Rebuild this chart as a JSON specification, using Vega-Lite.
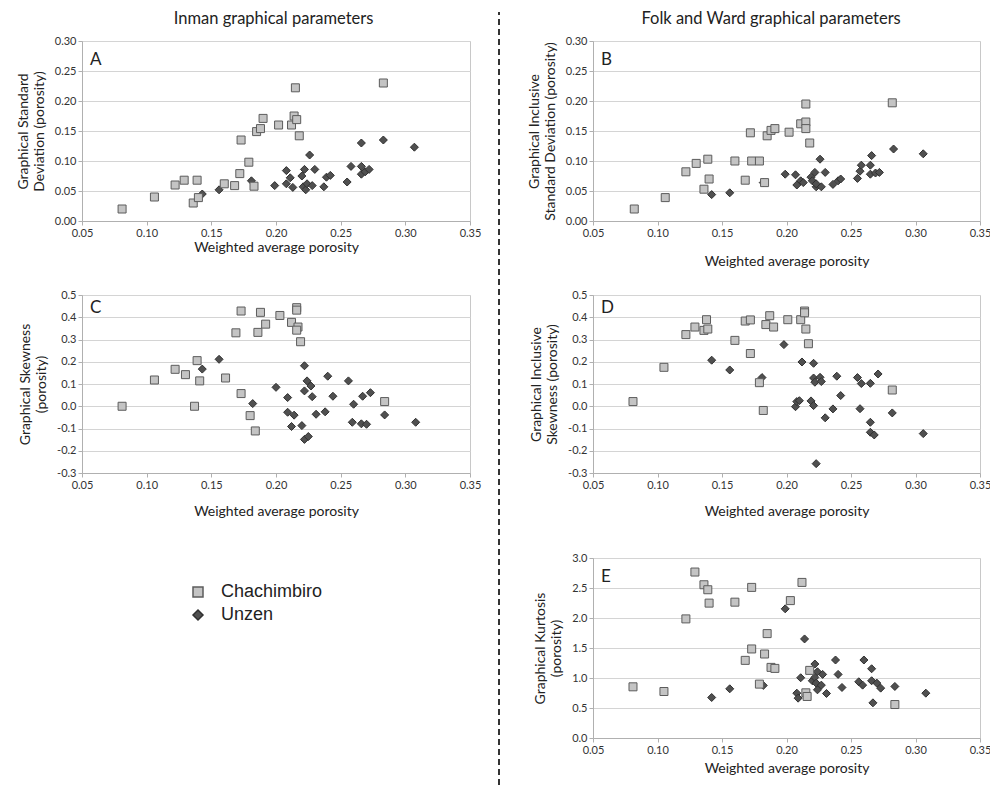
{
  "$schema": "https://vega.github.io/schema/vega-lite/v6.json",
  "padding": {"left": 15, "top": 10, "right": 0, "bottom": 0},
  "background": "white",
  "spacing": 0,
  "config": {
    "font": "Lato",
    "view": {"stroke": "#c8c8c8", "strokeWidth": 1},
    "axis": {"labelFont": "Lato", "labelFontSize": 11, "labelColor": "#333333", "titleFont": "Lato", "titleFontSize": 14, "titleFontWeight": "normal", "titleColor": "#222222", "domainColor": "#b0b0b0", "tickColor": "#b0b0b0", "tickSize": 4, "labelPadding": 2, "gridColor": "#d4d4d4", "labelFlush": false, "labelOverlap": false},
    "axisX": {"grid": false, "titlePadding": 6},
    "axisY": {"grid": true, "titlePadding": 8, "titleLineHeight": 16},
    "title": {"font": "Lato", "fontWeight": "normal", "color": "#222222"}
  },
  "hconcat": [
    {
      "title": {"text": "Inman graphical parameters", "fontSize": 16.5, "offset": 7, "anchor": "middle", "dx": 25},
      "spacing": 33,
      "vconcat": [
        {
          "width": 388, "height": 180,
          "title": {"text": "A", "anchor": "start", "frame": "group", "fontSize": 17, "offset": 0, "baseline": "top", "dx": 8, "dy": 34},
          "data": {"values": [
            {"s":"Unzen","x":0.143,"y":0.045},{"s":"Unzen","x":0.156,"y":0.052},{"s":"Unzen","x":0.181,"y":0.067},{"s":"Unzen","x":0.199,"y":0.059},{"s":"Unzen","x":0.208,"y":0.084},{"s":"Unzen","x":0.208,"y":0.062},{"s":"Unzen","x":0.211,"y":0.072},{"s":"Unzen","x":0.213,"y":0.056},{"s":"Unzen","x":0.220,"y":0.075},{"s":"Unzen","x":0.222,"y":0.086},{"s":"Unzen","x":0.221,"y":0.057},{"s":"Unzen","x":0.223,"y":0.052},{"s":"Unzen","x":0.224,"y":0.062},{"s":"Unzen","x":0.226,"y":0.110},{"s":"Unzen","x":0.228,"y":0.059},{"s":"Unzen","x":0.230,"y":0.086},{"s":"Unzen","x":0.237,"y":0.057},{"s":"Unzen","x":0.239,"y":0.073},{"s":"Unzen","x":0.242,"y":0.076},{"s":"Unzen","x":0.255,"y":0.065},{"s":"Unzen","x":0.258,"y":0.091},{"s":"Unzen","x":0.266,"y":0.130},{"s":"Unzen","x":0.266,"y":0.091},{"s":"Unzen","x":0.266,"y":0.078},{"s":"Unzen","x":0.269,"y":0.082},{"s":"Unzen","x":0.272,"y":0.086},{"s":"Unzen","x":0.283,"y":0.135},{"s":"Unzen","x":0.307,"y":0.123},
            {"s":"Chachimbiro","x":0.081,"y":0.020},{"s":"Chachimbiro","x":0.106,"y":0.040},{"s":"Chachimbiro","x":0.122,"y":0.060},{"s":"Chachimbiro","x":0.129,"y":0.068},{"s":"Chachimbiro","x":0.139,"y":0.068},{"s":"Chachimbiro","x":0.136,"y":0.030},{"s":"Chachimbiro","x":0.140,"y":0.039},{"s":"Chachimbiro","x":0.160,"y":0.062},{"s":"Chachimbiro","x":0.168,"y":0.059},{"s":"Chachimbiro","x":0.173,"y":0.135},{"s":"Chachimbiro","x":0.172,"y":0.079},{"s":"Chachimbiro","x":0.179,"y":0.098},{"s":"Chachimbiro","x":0.183,"y":0.058},{"s":"Chachimbiro","x":0.185,"y":0.149},{"s":"Chachimbiro","x":0.188,"y":0.154},{"s":"Chachimbiro","x":0.190,"y":0.171},{"s":"Chachimbiro","x":0.202,"y":0.160},{"s":"Chachimbiro","x":0.212,"y":0.160},{"s":"Chachimbiro","x":0.214,"y":0.175},{"s":"Chachimbiro","x":0.216,"y":0.169},{"s":"Chachimbiro","x":0.215,"y":0.222},{"s":"Chachimbiro","x":0.218,"y":0.142},{"s":"Chachimbiro","x":0.283,"y":0.230}
          ]},
          "mark": {"type": "point", "filled": true, "size": 64, "strokeWidth": 1, "opacity": 1},
          "encoding": {
            "x": {"field": "x", "type": "quantitative", "scale": {"domain": [0.05, 0.35], "nice": false, "zero": false}, "axis": {"values": [0.05, 0.1, 0.15, 0.2, 0.25, 0.3, 0.35], "format": ".2f", "title": "Weighted average porosity", "titlePadding": 2}},
            "y": {"field": "y", "type": "quantitative", "scale": {"domain": [0, 0.3], "nice": false, "zero": false}, "axis": {"values": [0, 0.05, 0.1, 0.15, 0.2, 0.25, 0.3], "format": ".2f", "title": ["Graphical Standard", "Deviation (porosity)"]}},
            "shape": {"field": "s", "type": "nominal", "scale": {"domain": ["Chachimbiro", "Unzen"], "range": ["square", "diamond"]}, "legend": {"orient": "none", "legendX": 107, "legendY": 542, "title": null, "labelFont": "Liberation Sans", "labelFontSize": 18, "labelColor": "#222222", "rowPadding": 5, "labelOffset": 14}},
            "fill": {"field": "s", "type": "nominal", "scale": {"domain": ["Chachimbiro", "Unzen"], "range": ["#c4c4c4", "#505050"]}, "legend": {"orient": "none", "legendX": 107, "legendY": 542, "title": null, "labelFont": "Liberation Sans", "labelFontSize": 18, "labelColor": "#222222", "rowPadding": 5, "labelOffset": 14}},
            "stroke": {"field": "s", "type": "nominal", "scale": {"domain": ["Chachimbiro", "Unzen"], "range": ["#5c5c5c", "#303030"]}, "legend": {"orient": "none", "legendX": 107, "legendY": 542, "title": null, "labelFont": "Liberation Sans", "labelFontSize": 18, "labelColor": "#222222", "rowPadding": 5, "labelOffset": 14}}
          }
        },
        {
          "width": 388, "height": 178,
          "title": {"text": "C", "anchor": "start", "frame": "group", "fontSize": 17, "offset": 0, "baseline": "top", "dx": 8, "dy": 28},
          "data": {"values": [
            {"s":"Unzen","x":0.143,"y":0.167},{"s":"Unzen","x":0.156,"y":0.211},{"s":"Unzen","x":0.182,"y":0.012},{"s":"Unzen","x":0.200,"y":0.085},{"s":"Unzen","x":0.209,"y":0.039},{"s":"Unzen","x":0.209,"y":-0.027},{"s":"Unzen","x":0.212,"y":-0.091},{"s":"Unzen","x":0.214,"y":-0.040},{"s":"Unzen","x":0.220,"y":-0.087},{"s":"Unzen","x":0.222,"y":0.182},{"s":"Unzen","x":0.224,"y":0.114},{"s":"Unzen","x":0.222,"y":0.069},{"s":"Unzen","x":0.227,"y":0.091},{"s":"Unzen","x":0.228,"y":0.043},{"s":"Unzen","x":0.222,"y":-0.149},{"s":"Unzen","x":0.225,"y":-0.136},{"s":"Unzen","x":0.231,"y":-0.036},{"s":"Unzen","x":0.238,"y":-0.025},{"s":"Unzen","x":0.240,"y":0.135},{"s":"Unzen","x":0.244,"y":0.045},{"s":"Unzen","x":0.256,"y":0.114},{"s":"Unzen","x":0.260,"y":0.009},{"s":"Unzen","x":0.259,"y":-0.072},{"s":"Unzen","x":0.267,"y":0.045},{"s":"Unzen","x":0.266,"y":-0.079},{"s":"Unzen","x":0.270,"y":-0.081},{"s":"Unzen","x":0.273,"y":0.061},{"s":"Unzen","x":0.284,"y":-0.039},{"s":"Unzen","x":0.308,"y":-0.072},
            {"s":"Chachimbiro","x":0.081,"y":0.0},{"s":"Chachimbiro","x":0.106,"y":0.118},{"s":"Chachimbiro","x":0.122,"y":0.166},{"s":"Chachimbiro","x":0.130,"y":0.142},{"s":"Chachimbiro","x":0.139,"y":0.205},{"s":"Chachimbiro","x":0.141,"y":0.114},{"s":"Chachimbiro","x":0.137,"y":0.0},{"s":"Chachimbiro","x":0.161,"y":0.127},{"s":"Chachimbiro","x":0.169,"y":0.330},{"s":"Chachimbiro","x":0.173,"y":0.428},{"s":"Chachimbiro","x":0.173,"y":0.057},{"s":"Chachimbiro","x":0.180,"y":-0.042},{"s":"Chachimbiro","x":0.184,"y":-0.111},{"s":"Chachimbiro","x":0.186,"y":0.332},{"s":"Chachimbiro","x":0.188,"y":0.422},{"s":"Chachimbiro","x":0.192,"y":0.369},{"s":"Chachimbiro","x":0.203,"y":0.408},{"s":"Chachimbiro","x":0.212,"y":0.377},{"s":"Chachimbiro","x":0.216,"y":0.443},{"s":"Chachimbiro","x":0.216,"y":0.432},{"s":"Chachimbiro","x":0.217,"y":0.356},{"s":"Chachimbiro","x":0.216,"y":0.342},{"s":"Chachimbiro","x":0.219,"y":0.290},{"s":"Chachimbiro","x":0.284,"y":0.021}
          ]},
          "mark": {"type": "point", "filled": true, "size": 64, "strokeWidth": 1, "opacity": 1},
          "encoding": {
            "x": {"field": "x", "type": "quantitative", "scale": {"domain": [0.05, 0.35], "nice": false, "zero": false}, "axis": {"values": [0.05, 0.1, 0.15, 0.2, 0.25, 0.3, 0.35], "format": ".2f", "title": "Weighted average porosity", "titlePadding": 14}},
            "y": {"field": "y", "type": "quantitative", "scale": {"domain": [-0.3, 0.5], "nice": false, "zero": false}, "axis": {"values": [-0.3, -0.2, -0.1, 0, 0.1, 0.2, 0.3, 0.4, 0.5], "format": ".1f", "labelExpr": "replace(datum.label, '\u2212', '-')", "title": ["Graphical Skewness", "(porosity)"]}},
            "shape": {"field": "s", "type": "nominal", "scale": {"domain": ["Chachimbiro", "Unzen"], "range": ["square", "diamond"]}, "legend": {"orient": "none", "legendX": 107, "legendY": 542, "title": null, "labelFont": "Liberation Sans", "labelFontSize": 18, "labelColor": "#222222", "rowPadding": 5, "labelOffset": 14}},
            "fill": {"field": "s", "type": "nominal", "scale": {"domain": ["Chachimbiro", "Unzen"], "range": ["#c4c4c4", "#505050"]}, "legend": {"orient": "none", "legendX": 107, "legendY": 542, "title": null, "labelFont": "Liberation Sans", "labelFontSize": 18, "labelColor": "#222222", "rowPadding": 5, "labelOffset": 14}},
            "stroke": {"field": "s", "type": "nominal", "scale": {"domain": ["Chachimbiro", "Unzen"], "range": ["#5c5c5c", "#303030"]}, "legend": {"orient": "none", "legendX": 107, "legendY": 542, "title": null, "labelFont": "Liberation Sans", "labelFontSize": 18, "labelColor": "#222222", "rowPadding": 5, "labelOffset": 14}}
          }
        }
      ]
    },
    {
      "width": 44, "height": 744,
      "view": {"stroke": null},
      "data": {"values": [{"k": 1}]},
      "mark": {"type": "rule", "color": "#333333", "strokeWidth": 2, "strokeDash": [6, 4]},
      "encoding": {
        "x": {"datum": 17, "type": "quantitative", "scale": {"domain": [0, 44]}, "axis": null},
        "y": {"datum": 0, "type": "quantitative", "scale": {"domain": [0, 1]}, "axis": null},
        "y2": {"datum": 1.039}
      }
    },
    {
      "title": {"text": "Folk and Ward graphical parameters", "fontSize": 16.5, "offset": 7, "anchor": "middle", "dx": 12},
      "spacing": 32,
      "vconcat": [
        {
          "spacing": 19,
          "vconcat": [
            {
              "width": 387, "height": 180,
              "title": {"text": "B", "anchor": "start", "frame": "group", "fontSize": 17, "offset": 0, "baseline": "top", "dx": 8, "dy": 34},
              "data": {"values": [
                {"s":"Unzen","x":0.142,"y":0.044},{"s":"Unzen","x":0.156,"y":0.047},{"s":"Unzen","x":0.182,"y":0.064},{"s":"Unzen","x":0.199,"y":0.078},{"s":"Unzen","x":0.207,"y":0.077},{"s":"Unzen","x":0.208,"y":0.060},{"s":"Unzen","x":0.211,"y":0.067},{"s":"Unzen","x":0.213,"y":0.064},{"s":"Unzen","x":0.219,"y":0.073},{"s":"Unzen","x":0.222,"y":0.081},{"s":"Unzen","x":0.220,"y":0.067},{"s":"Unzen","x":0.223,"y":0.057},{"s":"Unzen","x":0.223,"y":0.062},{"s":"Unzen","x":0.226,"y":0.103},{"s":"Unzen","x":0.227,"y":0.057},{"s":"Unzen","x":0.230,"y":0.081},{"s":"Unzen","x":0.236,"y":0.061},{"s":"Unzen","x":0.240,"y":0.067},{"s":"Unzen","x":0.242,"y":0.070},{"s":"Unzen","x":0.255,"y":0.071},{"s":"Unzen","x":0.257,"y":0.083},{"s":"Unzen","x":0.258,"y":0.093},{"s":"Unzen","x":0.265,"y":0.093},{"s":"Unzen","x":0.266,"y":0.109},{"s":"Unzen","x":0.265,"y":0.078},{"s":"Unzen","x":0.269,"y":0.080},{"s":"Unzen","x":0.272,"y":0.081},{"s":"Unzen","x":0.283,"y":0.120},{"s":"Unzen","x":0.306,"y":0.112},
                {"s":"Chachimbiro","x":0.082,"y":0.020},{"s":"Chachimbiro","x":0.106,"y":0.039},{"s":"Chachimbiro","x":0.122,"y":0.082},{"s":"Chachimbiro","x":0.130,"y":0.096},{"s":"Chachimbiro","x":0.139,"y":0.103},{"s":"Chachimbiro","x":0.136,"y":0.053},{"s":"Chachimbiro","x":0.140,"y":0.070},{"s":"Chachimbiro","x":0.160,"y":0.100},{"s":"Chachimbiro","x":0.168,"y":0.068},{"s":"Chachimbiro","x":0.172,"y":0.147},{"s":"Chachimbiro","x":0.173,"y":0.100},{"s":"Chachimbiro","x":0.179,"y":0.100},{"s":"Chachimbiro","x":0.183,"y":0.064},{"s":"Chachimbiro","x":0.185,"y":0.142},{"s":"Chachimbiro","x":0.188,"y":0.151},{"s":"Chachimbiro","x":0.191,"y":0.154},{"s":"Chachimbiro","x":0.202,"y":0.148},{"s":"Chachimbiro","x":0.211,"y":0.162},{"s":"Chachimbiro","x":0.215,"y":0.165},{"s":"Chachimbiro","x":0.215,"y":0.154},{"s":"Chachimbiro","x":0.215,"y":0.195},{"s":"Chachimbiro","x":0.218,"y":0.130},{"s":"Chachimbiro","x":0.282,"y":0.197}
              ]},
              "mark": {"type": "point", "filled": true, "size": 64, "strokeWidth": 1, "opacity": 1},
              "encoding": {
                "x": {"field": "x", "type": "quantitative", "scale": {"domain": [0.05, 0.35], "nice": false, "zero": false}, "axis": {"values": [0.05, 0.1, 0.15, 0.2, 0.25, 0.3, 0.35], "format": ".2f", "title": "Weighted average porosity", "titlePadding": 16}},
                "y": {"field": "y", "type": "quantitative", "scale": {"domain": [0, 0.3], "nice": false, "zero": false}, "axis": {"values": [0, 0.05, 0.1, 0.15, 0.2, 0.25, 0.3], "format": ".2f", "title": ["Graphical Inclusive", "Standard Deviation (porosity)"]}},
                "shape": {"field": "s", "type": "nominal", "scale": {"domain": ["Chachimbiro", "Unzen"], "range": ["square", "diamond"]}, "legend": {"orient": "none", "legendX": 107, "legendY": 542, "title": null, "labelFont": "Liberation Sans", "labelFontSize": 18, "labelColor": "#222222", "rowPadding": 5, "labelOffset": 14}},
                "fill": {"field": "s", "type": "nominal", "scale": {"domain": ["Chachimbiro", "Unzen"], "range": ["#c4c4c4", "#505050"]}, "legend": {"orient": "none", "legendX": 107, "legendY": 542, "title": null, "labelFont": "Liberation Sans", "labelFontSize": 18, "labelColor": "#222222", "rowPadding": 5, "labelOffset": 14}},
                "stroke": {"field": "s", "type": "nominal", "scale": {"domain": ["Chachimbiro", "Unzen"], "range": ["#5c5c5c", "#303030"]}, "legend": {"orient": "none", "legendX": 107, "legendY": 542, "title": null, "labelFont": "Liberation Sans", "labelFontSize": 18, "labelColor": "#222222", "rowPadding": 5, "labelOffset": 14}}
              }
            },
            {
              "width": 387, "height": 178,
              "title": {"text": "D", "anchor": "start", "frame": "group", "fontSize": 17, "offset": 0, "baseline": "top", "dx": 8, "dy": 28},
              "data": {"values": [
                {"s":"Unzen","x":0.142,"y":0.207},{"s":"Unzen","x":0.156,"y":0.163},{"s":"Unzen","x":0.181,"y":0.129},{"s":"Unzen","x":0.198,"y":0.277},{"s":"Unzen","x":0.207,"y":-0.002},{"s":"Unzen","x":0.208,"y":0.021},{"s":"Unzen","x":0.210,"y":0.025},{"s":"Unzen","x":0.212,"y":0.199},{"s":"Unzen","x":0.219,"y":0.024},{"s":"Unzen","x":0.221,"y":0.003},{"s":"Unzen","x":0.221,"y":0.193},{"s":"Unzen","x":0.221,"y":0.127},{"s":"Unzen","x":0.222,"y":0.108},{"s":"Unzen","x":0.226,"y":0.130},{"s":"Unzen","x":0.227,"y":0.111},{"s":"Unzen","x":0.223,"y":-0.258},{"s":"Unzen","x":0.230,"y":-0.052},{"s":"Unzen","x":0.236,"y":-0.012},{"s":"Unzen","x":0.239,"y":0.135},{"s":"Unzen","x":0.242,"y":0.048},{"s":"Unzen","x":0.255,"y":0.129},{"s":"Unzen","x":0.258,"y":0.102},{"s":"Unzen","x":0.257,"y":-0.011},{"s":"Unzen","x":0.265,"y":0.103},{"s":"Unzen","x":0.265,"y":-0.072},{"s":"Unzen","x":0.265,"y":-0.117},{"s":"Unzen","x":0.268,"y":-0.129},{"s":"Unzen","x":0.271,"y":0.145},{"s":"Unzen","x":0.282,"y":-0.030},{"s":"Unzen","x":0.306,"y":-0.123},
                {"s":"Chachimbiro","x":0.081,"y":0.021},{"s":"Chachimbiro","x":0.105,"y":0.175},{"s":"Chachimbiro","x":0.122,"y":0.322},{"s":"Chachimbiro","x":0.129,"y":0.356},{"s":"Chachimbiro","x":0.136,"y":0.341},{"s":"Chachimbiro","x":0.138,"y":0.389},{"s":"Chachimbiro","x":0.139,"y":0.347},{"s":"Chachimbiro","x":0.160,"y":0.296},{"s":"Chachimbiro","x":0.168,"y":0.383},{"s":"Chachimbiro","x":0.172,"y":0.388},{"s":"Chachimbiro","x":0.172,"y":0.237},{"s":"Chachimbiro","x":0.179,"y":0.106},{"s":"Chachimbiro","x":0.182,"y":-0.019},{"s":"Chachimbiro","x":0.184,"y":0.367},{"s":"Chachimbiro","x":0.187,"y":0.407},{"s":"Chachimbiro","x":0.190,"y":0.356},{"s":"Chachimbiro","x":0.201,"y":0.389},{"s":"Chachimbiro","x":0.211,"y":0.389},{"s":"Chachimbiro","x":0.214,"y":0.428},{"s":"Chachimbiro","x":0.214,"y":0.420},{"s":"Chachimbiro","x":0.215,"y":0.347},{"s":"Chachimbiro","x":0.217,"y":0.281},{"s":"Chachimbiro","x":0.282,"y":0.073}
              ]},
              "mark": {"type": "point", "filled": true, "size": 64, "strokeWidth": 1, "opacity": 1},
              "encoding": {
                "x": {"field": "x", "type": "quantitative", "scale": {"domain": [0.05, 0.35], "nice": false, "zero": false}, "axis": {"values": [0.05, 0.1, 0.15, 0.2, 0.25, 0.3, 0.35], "format": ".2f", "title": "Weighted average porosity", "titlePadding": 14}},
                "y": {"field": "y", "type": "quantitative", "scale": {"domain": [-0.3, 0.5], "nice": false, "zero": false}, "axis": {"values": [-0.3, -0.2, -0.1, 0, 0.1, 0.2, 0.3, 0.4, 0.5], "format": ".1f", "labelExpr": "replace(datum.label, '\u2212', '-')", "title": ["Graphical Inclusive", "Skewness (porosity)"]}},
                "shape": {"field": "s", "type": "nominal", "scale": {"domain": ["Chachimbiro", "Unzen"], "range": ["square", "diamond"]}, "legend": {"orient": "none", "legendX": 107, "legendY": 542, "title": null, "labelFont": "Liberation Sans", "labelFontSize": 18, "labelColor": "#222222", "rowPadding": 5, "labelOffset": 14}},
                "fill": {"field": "s", "type": "nominal", "scale": {"domain": ["Chachimbiro", "Unzen"], "range": ["#c4c4c4", "#505050"]}, "legend": {"orient": "none", "legendX": 107, "legendY": 542, "title": null, "labelFont": "Liberation Sans", "labelFontSize": 18, "labelColor": "#222222", "rowPadding": 5, "labelOffset": 14}},
                "stroke": {"field": "s", "type": "nominal", "scale": {"domain": ["Chachimbiro", "Unzen"], "range": ["#5c5c5c", "#303030"]}, "legend": {"orient": "none", "legendX": 107, "legendY": 542, "title": null, "labelFont": "Liberation Sans", "labelFontSize": 18, "labelColor": "#222222", "rowPadding": 5, "labelOffset": 14}}
              }
            }
          ]
        },
        {
          "width": 387, "height": 180,
          "title": {"text": "E", "anchor": "start", "frame": "group", "fontSize": 17, "offset": 0, "baseline": "top", "dx": 8, "dy": 34},
          "data": {"values": [
            {"s":"Unzen","x":0.142,"y":0.675},{"s":"Unzen","x":0.156,"y":0.82},{"s":"Unzen","x":0.182,"y":0.876},{"s":"Unzen","x":0.199,"y":2.153},{"s":"Unzen","x":0.208,"y":0.747},{"s":"Unzen","x":0.209,"y":0.664},{"s":"Unzen","x":0.211,"y":1.004},{"s":"Unzen","x":0.214,"y":1.651},{"s":"Unzen","x":0.220,"y":0.954},{"s":"Unzen","x":0.222,"y":1.233},{"s":"Unzen","x":0.222,"y":1.01},{"s":"Unzen","x":0.224,"y":1.104},{"s":"Unzen","x":0.224,"y":0.803},{"s":"Unzen","x":0.223,"y":0.915},{"s":"Unzen","x":0.227,"y":0.881},{"s":"Unzen","x":0.228,"y":1.06},{"s":"Unzen","x":0.231,"y":0.742},{"s":"Unzen","x":0.238,"y":1.30},{"s":"Unzen","x":0.240,"y":1.06},{"s":"Unzen","x":0.243,"y":0.842},{"s":"Unzen","x":0.256,"y":0.937},{"s":"Unzen","x":0.259,"y":0.881},{"s":"Unzen","x":0.260,"y":1.30},{"s":"Unzen","x":0.266,"y":1.154},{"s":"Unzen","x":0.266,"y":0.954},{"s":"Unzen","x":0.267,"y":0.586},{"s":"Unzen","x":0.270,"y":0.915},{"s":"Unzen","x":0.273,"y":0.831},{"s":"Unzen","x":0.284,"y":0.859},{"s":"Unzen","x":0.308,"y":0.747},
            {"s":"Chachimbiro","x":0.081,"y":0.853},{"s":"Chachimbiro","x":0.105,"y":0.775},{"s":"Chachimbiro","x":0.122,"y":1.985},{"s":"Chachimbiro","x":0.129,"y":2.766},{"s":"Chachimbiro","x":0.136,"y":2.554},{"s":"Chachimbiro","x":0.139,"y":2.471},{"s":"Chachimbiro","x":0.140,"y":2.248},{"s":"Chachimbiro","x":0.160,"y":2.264},{"s":"Chachimbiro","x":0.168,"y":1.294},{"s":"Chachimbiro","x":0.173,"y":2.51},{"s":"Chachimbiro","x":0.173,"y":1.484},{"s":"Chachimbiro","x":0.179,"y":0.898},{"s":"Chachimbiro","x":0.183,"y":1.40},{"s":"Chachimbiro","x":0.185,"y":1.74},{"s":"Chachimbiro","x":0.188,"y":1.177},{"s":"Chachimbiro","x":0.191,"y":1.16},{"s":"Chachimbiro","x":0.203,"y":2.29},{"s":"Chachimbiro","x":0.212,"y":2.593},{"s":"Chachimbiro","x":0.215,"y":0.753},{"s":"Chachimbiro","x":0.216,"y":0.692},{"s":"Chachimbiro","x":0.218,"y":1.127},{"s":"Chachimbiro","x":0.284,"y":0.558}
          ]},
          "mark": {"type": "point", "filled": true, "size": 64, "strokeWidth": 1, "opacity": 1},
          "encoding": {
            "x": {"field": "x", "type": "quantitative", "scale": {"domain": [0.05, 0.35], "nice": false, "zero": false}, "axis": {"values": [0.05, 0.1, 0.15, 0.2, 0.25, 0.3, 0.35], "format": ".2f", "title": "Weighted average porosity", "titlePadding": 6}},
            "y": {"field": "y", "type": "quantitative", "scale": {"domain": [0, 3], "nice": false, "zero": false}, "axis": {"values": [0, 0.5, 1, 1.5, 2, 2.5, 3], "format": ".1f", "title": ["Graphical Kurtosis", "(porosity)"]}},
            "shape": {"field": "s", "type": "nominal", "scale": {"domain": ["Chachimbiro", "Unzen"], "range": ["square", "diamond"]}, "legend": {"orient": "none", "legendX": 107, "legendY": 542, "title": null, "labelFont": "Liberation Sans", "labelFontSize": 18, "labelColor": "#222222", "rowPadding": 5, "labelOffset": 14}},
            "fill": {"field": "s", "type": "nominal", "scale": {"domain": ["Chachimbiro", "Unzen"], "range": ["#c4c4c4", "#505050"]}, "legend": {"orient": "none", "legendX": 107, "legendY": 542, "title": null, "labelFont": "Liberation Sans", "labelFontSize": 18, "labelColor": "#222222", "rowPadding": 5, "labelOffset": 14}},
            "stroke": {"field": "s", "type": "nominal", "scale": {"domain": ["Chachimbiro", "Unzen"], "range": ["#5c5c5c", "#303030"]}, "legend": {"orient": "none", "legendX": 107, "legendY": 542, "title": null, "labelFont": "Liberation Sans", "labelFontSize": 18, "labelColor": "#222222", "rowPadding": 5, "labelOffset": 14}}
          }
        }
      ]
    }
  ]
}
